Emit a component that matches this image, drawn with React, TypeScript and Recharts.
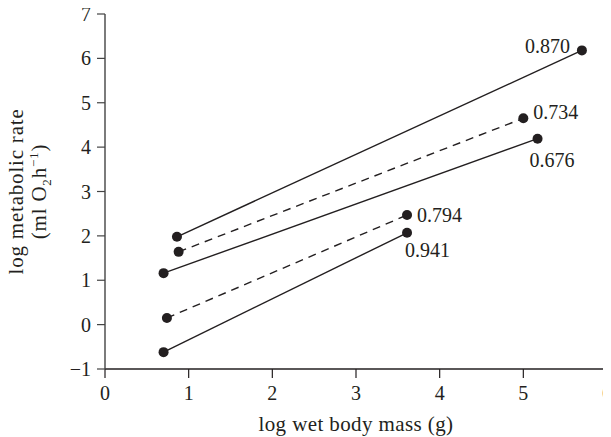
import { LineChart, Line, XAxis, YAxis, Label } from "recharts";

// endpoints of the five regression lines (log mass, log metabolic rate)
const massStart = [0.86, 0.88, 0.7, 0.74, 0.7];
const rateStart = [1.98, 1.64, 1.16, 0.15, -0.62];
const massEnd = [5.7, 5.0, 5.17, 3.61, 3.61];
const rateEnd = [6.18, 4.65, 4.19, 2.47, 2.07];
const slopes = ["0.870", "0.734", "0.676", "0.794", "0.941"];
const dashed = [false, true, false, true, false];

const xTicks = [0, 1, 2, 3, 4, 5, 6];
const yTicks = [-1, 0, 1, 2, 3, 4, 5, 6, 7];

// where each slope label sits relative to its end dot
const LABEL_POS = [
  { dx: -12, dy: 3, anchor: "end" },
  { dx: 10, dy: 1, anchor: "start" },
  { dx: -8, dy: 28, anchor: "start" },
  { dx: 10, dy: 7, anchor: "start" },
  { dx: -2, dy: 24, anchor: "start" },
];

const INK = "#231f20";
const FONT = "'Liberation Serif', 'Times New Roman', serif";

const series = slopes.map((s, i) => ({
  slope: s,
  dashed: dashed[i],
  points: [
    { mass: massStart[i], rate: rateStart[i] },
    { mass: massEnd[i], rate: rateEnd[i] },
  ],
}));

const fmt = (v: number) => (v < 0 ? `\u2212${Math.abs(v)}` : `${v}`);

const XTick = ({ x, y, payload }: any) => (
  <text x={x} y={y + 14} textAnchor="middle" fill={INK} fontFamily={FONT} fontSize={20}>
    {payload.value}
  </text>
);

const YTitle = (props: any) => {
  const vb = props.viewBox || { x: 0, y: 14, width: 105, height: 355 };
  const cy = vb.y + vb.height / 2;
  return (
    <g fill={INK} fontFamily={FONT} fontSize={21} letterSpacing={0.8}>
      <text x={23} y={cy} textAnchor="middle" transform={`rotate(-90, 23, ${cy})`}>
        log metabolic rate
      </text>
      <text x={46} y={cy} textAnchor="middle" transform={`rotate(-90, 46, ${cy})`}>
        (ml O
        <tspan fontSize={13} dy={5}>2</tspan>
        <tspan dy={-5}>h</tspan>
        <tspan fontSize={13} dy={-8}>{"\u22121"}</tspan>
        <tspan dy={8}>)</tspan>
      </text>
    </g>
  );
};

const XTitle = (props: any) => {
  const vb = props.viewBox || { x: 105, y: 369, width: 502, height: 68 };
  return (
    <text
      x={vb.x + vb.width / 2}
      y={vb.y + 62}
      textAnchor="middle"
      fill={INK}
      fontFamily={FONT}
      fontSize={21}
      letterSpacing={0.4}
    >
      log wet body mass (g)
    </text>
  );
};

const App = () => (
  <div style={{ width: 611, height: 437, marginLeft: -8, marginTop: -8, fontFamily: FONT }}>
    <LineChart width={611} height={437} margin={{ top: 14, right: 4, left: 0, bottom: 0 }}>
      <XAxis
        type="number"
        dataKey="mass"
        domain={[0, 6]}
        ticks={xTicks}
        interval={0}
        allowDataOverflow
        height={68}
        tickSize={9}
        tickMargin={8}
        axisLine={{ stroke: INK, strokeWidth: 1.4 }}
        tickLine={{ stroke: INK, strokeWidth: 1.2 }}
        tick={<XTick />}
      >
        <Label content={<XTitle />} />
      </XAxis>
      <YAxis
        type="number"
        domain={[-1, 7]}
        ticks={yTicks}
        interval={0}
        allowDataOverflow
        width={105}
        tickSize={8}
        tickMargin={6}
        tickFormatter={fmt}
        axisLine={{ stroke: "#444", strokeWidth: 1.4 }}
        tickLine={{ stroke: "#444", strokeWidth: 1.2 }}
        tick={{ fill: INK, fontSize: 20, fontFamily: FONT }}
      >
        <Label content={<YTitle />} />
      </YAxis>
      {series.map((s, i) => (
        <Line
          key={s.slope}
          data={s.points}
          dataKey="rate"
          type="linear"
          stroke={INK}
          strokeWidth={1.4}
          strokeDasharray={s.dashed ? "8 6" : undefined}
          dot={{ r: 5, fill: INK, stroke: "none" }}
          activeDot={false}
          isAnimationActive={false}
          label={(p: any) =>
            p.index === s.points.length - 1 ? (
              <text
                key="lbl"
                x={p.x + LABEL_POS[i].dx}
                y={p.y + LABEL_POS[i].dy}
                textAnchor={LABEL_POS[i].anchor}
                fill={INK}
                fontFamily={FONT}
                fontSize={20}
              >
                {s.slope}
              </text>
            ) : (
              <g key={`n${p.index}`} />
            )
          }
        />
      ))}
    </LineChart>
  </div>
);

export default App;
